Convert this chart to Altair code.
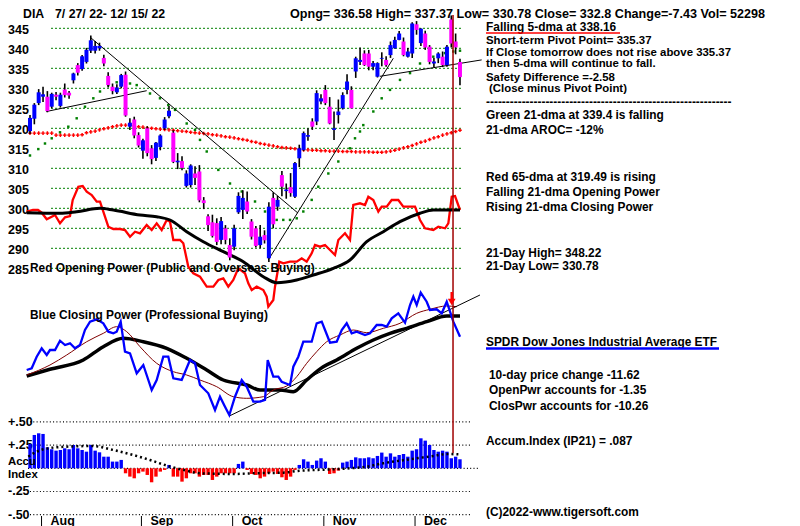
import altair as alt
import pandas as pd

FONT = "Liberation Sans"

dates = ["2022-07-27","2022-07-28","2022-07-29",
 "2022-08-01","2022-08-02","2022-08-03","2022-08-04","2022-08-05",
 "2022-08-08","2022-08-09","2022-08-10","2022-08-11","2022-08-12",
 "2022-08-15","2022-08-16","2022-08-17","2022-08-18","2022-08-19",
 "2022-08-22","2022-08-23","2022-08-24","2022-08-25","2022-08-26",
 "2022-08-29","2022-08-30","2022-08-31",
 "2022-09-01","2022-09-02","2022-09-06","2022-09-07","2022-09-08","2022-09-09",
 "2022-09-12","2022-09-13","2022-09-14","2022-09-15","2022-09-16",
 "2022-09-19","2022-09-20","2022-09-21","2022-09-22","2022-09-23",
 "2022-09-26","2022-09-27","2022-09-28","2022-09-29","2022-09-30",
 "2022-10-03","2022-10-04","2022-10-05","2022-10-06","2022-10-07",
 "2022-10-10","2022-10-11","2022-10-12","2022-10-13","2022-10-14",
 "2022-10-17","2022-10-18","2022-10-19","2022-10-20","2022-10-21",
 "2022-10-24","2022-10-25","2022-10-26","2022-10-27","2022-10-28","2022-10-31",
 "2022-11-01","2022-11-02","2022-11-03","2022-11-04",
 "2022-11-07","2022-11-08","2022-11-09","2022-11-10","2022-11-11",
 "2022-11-14","2022-11-15","2022-11-16","2022-11-17","2022-11-18",
 "2022-11-21","2022-11-22","2022-11-23","2022-11-25",
 "2022-11-28","2022-11-29","2022-11-30",
 "2022-12-01","2022-12-02","2022-12-05","2022-12-06","2022-12-07","2022-12-08","2022-12-09",
 "2022-12-12","2022-12-13","2022-12-14","2022-12-15"]

opens = [319.3,322.4,326.3,327.9,327.9,325.4,328.4,325.6,329.7,328.9,
 332.0,335.8,334.8,336.6,339.4,339.4,340.0,337.6,333.1,330.4,
 329.0,330.4,333.4,320.4,322.2,318.3,314.4,320.0,315.0,312.6,
 315.3,320.0,323.0,318.9,311.5,311.8,305.6,305.8,308.7,309.2,
 302.0,298.0,296.5,296.3,292.1,295.0,290.8,290.4,299.0,299.6,
 301.7,296.7,295.0,290.8,293.3,287.5,302.6,300.4,308.3,304.3,
 305.3,302.9,312.5,314.6,317.9,321.7,321.7,326.7,329.6,325.4,
 319.6,323.3,325.0,329.6,329.6,334.2,336.6,338.7,338.7,335.4,
 332.9,337.4,337.1,338.3,340.0,342.1,341.7,337.9,338.7,346.0,
 341.3,343.7,340.4,336.2,337.5,337.9,335.8,347.2,341.7,336.58]
highs = [323.3,326.3,329.8,330.4,329.3,328.9,329.1,328.9,331.2,329.3,
 333.9,336.3,338.3,340.1,343.2,341.8,341.4,338.4,334.0,331.2,
 331.0,333.6,334.2,322.5,322.9,319.0,317.4,320.5,315.8,316.6,
 318.5,322.8,325.6,319.5,313.8,313.0,309.5,311.0,310.5,310.8,
 302.8,298.5,298.4,297.5,297.8,295.8,292.5,295.9,304.0,304.5,
 304.2,297.3,295.6,295.8,294.5,301.5,304.0,303.1,309.3,306.2,
 308.8,311.6,315.9,319.2,320.0,322.5,329.5,328.5,330.8,327.8,
 324.2,327.2,329.0,333.5,330.5,337.9,340.2,339.5,339.6,336.8,
 336.5,339.0,338.0,341.7,342.9,344.3,342.7,340.1,346.5,346.8,
 345.0,344.4,340.8,337.6,339.0,339.2,340.8,348.22,343.7,337.37]
lows = [318.6,321.0,325.8,326.6,324.0,325.0,327.0,325.2,327.7,327.4,
 331.2,333.2,334.4,336.2,338.8,338.7,339.4,335.5,330.2,328.5,
 328.6,330.0,322.9,319.6,317.5,315.2,312.4,313.0,311.0,311.8,
 314.5,319.6,322.5,311.3,309.8,309.5,305.2,305.2,305.8,301.5,
 299.8,294.3,292.7,290.8,291.0,291.0,287.0,289.5,298.6,297.3,
 298.6,292.2,290.2,290.0,291.2,286.6,295.0,299.4,303.0,302.4,
 302.9,302.6,310.3,314.3,316.9,319.6,320.8,326.0,325.8,321.0,
 317.1,321.2,324.7,328.5,325.0,332.6,335.8,335.6,334.5,334.5,
 332.7,335.5,335.4,337.6,339.9,342.0,338.0,337.7,337.6,343.4,
 340.6,339.6,336.0,335.3,336.3,335.3,335.4,340.2,338.5,330.78]
closes = [322.6,325.9,329.0,328.5,324.3,328.6,327.9,328.4,328.3,328.2,
 333.7,333.9,338.0,339.6,342.0,340.6,340.6,336.2,330.8,329.3,
 330.2,333.3,323.2,321.4,318.2,315.7,317.0,313.8,312.3,316.4,
 318.2,322.2,324.4,311.6,311.9,310.1,308.7,310.7,307.6,302.0,
 301.3,295.8,293.1,291.6,296.8,292.1,287.7,295.0,303.1,302.6,
 299.2,292.9,290.6,292.9,292.0,300.4,296.0,302.1,305.4,304.7,
 303.8,311.3,315.0,318.8,318.3,320.4,328.8,327.5,326.3,321.2,
 320.0,324.2,328.3,331.7,325.0,337.5,337.1,335.8,335.4,336.3,
 336.3,337.6,335.8,340.8,342.1,343.7,338.3,339.2,346.2,344.6,
 344.9,340.2,336.6,336.7,338.7,335.8,340.4,341.2,340.23,332.8]

ma65 = [318.8,318.8,318.8,318.8,318.8,318.8,318.3,318.3,318.3,318.3,
 318.3,318.3,318.4,318.9,319.1,319.3,319.6,319.9,320.1,320.4,
 320.6,320.8,320.8,320.8,320.6,320.4,320.3,320.1,320.0,319.9,
 319.8,319.7,319.6,319.5,319.4,319.3,319.2,319.0,318.9,318.8,
 318.7,318.6,318.4,318.3,318.1,317.9,317.8,317.6,317.4,317.2,
 317.0,316.7,316.5,316.2,316.0,315.8,315.6,315.4,315.2,315.1,
 315.0,314.9,314.7,314.6,314.6,314.5,314.5,314.4,314.4,314.3,
 314.3,314.3,314.2,314.2,314.2,314.1,314.1,314.1,314.1,314.0,
 314.0,314.0,314.1,314.3,314.5,314.8,315.1,315.4,315.7,316.1,
 316.5,316.8,317.2,317.6,317.9,318.3,318.6,318.9,319.2,319.5]

ma21_day = [0,1.91,3.45,5.0,6.91,8.82,10.75,12.66,14.58,16.12,18.03,19.96,21.87,23.03,24.57,
 27.63,29.93,31.84,33.39,36.08,37.99,39.14,40.69,43.36,46.05,48.75,51.81,54.11,56.8,58.32,
 59.87,61.41,62.93,64.86,66.38,68.69,70.99,73.68,74.83,75.98,76.74,79.05,80.98,82.89,85.19,
 87.5,89.8,92.86,95.56,97.47,99.01]
ma21_val = [313.2,314.8,316.2,317.5,319,320.4,322.5,325.4,327.5,329.2,330.8,331.5,331.7,331.2,330.8,
 328.7,327.5,325.8,324.6,321.2,319.6,317.1,314.2,309.6,306.2,304.2,301.7,299.2,297.1,297.1,
 297.1,297.5,299.2,302.1,305.4,308.7,311.7,315,317.5,319.2,320.8,324.2,327.5,329.6,332.1,
 333.8,336.2,337.9,338.8,339.2,339.4]

trend_id = [1,1,2,2,3,3,4,4]
trend_day = [13.82,61.7,3.77,26.87,54.87,83.65,80.59,104.0]
trend_price = [342.8,298.8,324.2,329.4,287.1,337.5,333.0,337.1]

grid_levels = [285,290,295,300,305,310,315,320,325,330,335,340,345]

# Opening power (red) and its average, arbitrary units
op_day = [-0.76,0.69,1.84,2.69,3.85,5.0,5.76,6.91,8.06,9.21,9.83,11.12,12.13,13.06,14.21,15.36,16.12,16.88,
 18.03,19.18,20.72,21.87,23.03,24.18,25.33,26.87,28.02,29.17,30.32,31.48,32.24,33.0,34.54,35.3,36.45,37.6,
 39.14,40.69,42.21,43.36,44.51,45.66,46.81,47.96,49.5,50.27,51.05,52.2,53.72,54.5,54.87,56.02,56.41,57.4,
 58.32,59.87,61.41,62.56,63.71,64.86,65.62,66.77,67.93,69.08,70.23,70.99,72.53,73.68,74.44,75.98,77.13,77.9,
 79.05,80.2,80.98,82.13,83.28,84.8,85.95,88.65,89.8,90.95,92.86,94.01,95.56,96.32,97.1,97.86,99.01]
op_val = [208.3,210,210,207.3,200.7,203.3,205,196.7,202.7,204,220,233.3,234,228.3,225,218.3,218.3,208.3,
 193.3,191,191,190,183.3,188.3,186.7,195,190,196.7,190,200,198.3,180,180,176.7,153.3,146.7,
 143.3,133.3,133.3,140,141.7,133.3,140,151.7,146.7,136.7,130,133.3,130,123.3,113.3,120,133.3,158.3,
 156.7,158.3,158.3,161.7,158.3,166.7,175,173.3,175,170,165,180,186.7,180,215,216.7,215,223.3,
 220,208.3,213.3,213.3,220,220,213.3,213.3,200,191.7,190,193.3,191.7,196.7,223.3,224,210]
opma_day = [-0.76,6.91,10.75,16.12,19.18,25.33,29.17,32.24,36.08,39.9,44.51,49.11,53.72,56.8,61.41,65.23,
 69.84,73.68,77.53,81.35,85.19,89.8,92.86,99.01]
opma_val = [207.3,206.7,208.3,211.7,210,205,203.3,200,188.3,178.3,168.3,158.3,143.3,137.3,140,145,
 151.7,160,178.3,188.3,198.3,206.7,210,210]

# Closing power (blue) and its averages
cp_day = [-0.76,0.39,1.54,2.69,3.85,4.6,5.76,6.91,8.06,9.21,10.36,11.51,12.66,13.82,15.36,16.88,18.03,19.18,
 19.96,20.88,21.87,23.03,24.57,26.09,28.02,29.17,30.69,31.84,33.0,34.93,36.84,37.99,39.14,41.05,42.6,43.75,
 44.9,45.89,47.2,48.75,49.9,51.42,52.96,54.11,54.73,56.02,57.17,57.95,59.87,60.63,61.78,62.93,64.86,66.01,
 67.17,67.93,69.08,70.62,71.77,72.92,74.07,75.22,77.13,78.29,79.83,80.98,82.13,83.28,84.8,86.35,87.5,88.26,
 89.04,89.96,91.34,92.1,93.64,94.8,95.95,96.71,97.47,99.01]
cp_val = [50,51.7,63.3,71.7,65,70,70,79.3,75,76.7,71.7,75,90,98.3,100.7,96.7,88.3,86.7,
 88.3,98.3,68.3,66.7,46.7,55,30,40,63.3,63.3,41.7,40,60,56.7,35,26.7,10,23.3,
 13.3,5,23.3,40,33.3,18.3,18.3,20,60,43.3,43.3,38.3,35,53.3,63.3,78.3,78.3,96.7,
 98.3,90,77.3,78.3,90,96.7,86.7,88.3,85,86.7,95,95,93.3,101.7,106.7,97.3,115,123.3,
 115,127.3,118.3,110,110.7,106.7,118.3,108.3,98.3,83.3]
cpb_day = [-0.76,4.6,8.45,13.06,16.88,19.96,22.27,25.33,29.17,33.0,36.08,39.14,42.99,46.81,49.9,53.72,
 56.02,59.11,61.41,63.71,66.01,68.32,71.38,74.44,77.53,81.35,85.19,89.04,92.1,95.95,98.25]
cpb_val = [45,55,65,78.3,86.7,93.3,88.3,73.3,56.7,48.3,45,40,33.3,23.3,21.7,23.3,
 30,34,43.3,56.7,68.3,78.3,85,90,87.3,91.7,96.7,106.7,110.7,114,113.3]
cpk_day = [-0.76,4.6,12.27,16.88,21.48,26.09,31.48,36.08,40.69,44.51,49.9,52.96,57.56,60.63,63.71,67.53,
 70.62,75.22,79.05,82.89,86.74,91.34,95.95,99.01]
cpk_val = [44,50.7,60,73.3,81.7,78.3,71.7,61.7,50,40,35,30,30,28.3,40,53.3,
 60,71.7,80,86.7,91.7,98.3,104,104]
cpt_day = [45.89,103.6]
cpt_val = [4,125]

accum = [0.262,0.359,0.377,0.37,0.226,0.205,0.19,0.197,0.215,0.205,
 0.251,0.215,0.197,0.179,0.251,0.19,0.172,0.125,0.125,0.072,
 0.072,0.09,-0.054,-0.09,-0.108,-0.054,-0.036,-0.072,-0.151,-0.09,
 -0.036,-0.018,0.036,-0.09,-0.09,-0.144,-0.108,-0.054,-0.054,-0.09,
 -0.072,-0.072,-0.126,-0.09,-0.054,-0.054,-0.054,-0.054,0.047,0.072,
 -0.018,-0.061,-0.072,-0.108,-0.09,-0.054,-0.036,-0.061,-0.097,-0.126,
 -0.09,-0.018,0.036,0.097,0.072,0.036,0.083,0.108,0.072,-0.061,
 -0.054,-0.025,0.061,0.072,0.09,0.118,0.108,0.108,0.118,0.108,
 0.133,0.169,0.125,0.161,0.125,0.143,0.154,0.125,0.19,0.205,
 0.323,0.298,0.251,0.197,0.179,0.19,0.179,0.108,0.125,0.097]
am_day = [-0.39,1.54,3.07,8.45,14.58,18.42,23.79,27.63,32.24,36.08,39.14,46.81,51.42,58.32,62.17,66.01,
 69.84,73.68,77.53,81.35,85.19,89.04,92.86,95.95,98.63]
am_val = [0.125,0.179,0.205,0.233,0.24,0.205,0.143,0.089,0.018,-0.026,-0.054,-0.061,-0.054,-0.047,-0.026,-0.018,
 -0.011,0.0,0.018,0.054,0.082,0.107,0.133,0.154,0.15]
accum_levels = [0.5, 0.25, -0.25, -0.5]
accum_labels = ["+.50", "+.25", "-.25", "-.50"]

months = ["Aug", "Sep", "Oct", "Nov", "Dec"]
month_first_day = [3, 26, 47, 68, 89]
signal_day = [97.4]

# ---------- scales ----------
xs = alt.Scale(domain=[-5.066, 175.45], nice=False, zero=False)
ps = alt.Scale(domain=[220.575, 350.075], nice=False, zero=False)
pw = alt.Scale(domain=[-106, 412], nice=False, zero=False)
acs = alt.Scale(domain=[-0.622, 4.960], nice=False, zero=False)

def X(f="day"):
    return alt.X(f"{f}:Q", scale=xs, axis=None)

def Y(f, sc):
    return alt.Y(f"{f}:Q", scale=sc, axis=None)

def Y2(f):
    return alt.Y2(f"{f}:Q")

def txt(s, x, y, color="black", size=11.9):
    return alt.Chart(pd.DataFrame({"t": [s]})).mark_text(
        align="left", baseline="middle", font=FONT, fontSize=size,
        fontWeight="bold", color=color).encode(
        x=alt.value(x), y=alt.value(y), text="t:N")

def hline(x1, x2, y, color, w):
    return alt.Chart(pd.DataFrame({"k": [0]})).mark_rule(color=color, strokeWidth=w).encode(
        x=alt.value(x1), x2=alt.value(x2), y=alt.value(y))

days = list(range(len(dates)))
cdf = pd.DataFrame({"day": days, "date": dates, "o": opens, "h": highs, "l": lows, "c": closes})
cdf["dir"] = ["up" if c >= o else "down" for o, c in zip(opens, closes)]

layers = []

# price grid
layers.append(alt.Chart(pd.DataFrame({"p": grid_levels})).mark_rule(
    color="#008000", strokeDash=[2, 2], strokeWidth=1).encode(
    y=Y("p", ps), x=alt.value(43), x2=alt.value(454)))
layers.append(alt.Chart(pd.DataFrame({"p": grid_levels, "lab": [str(v) for v in grid_levels]})).mark_text(
    align="left", baseline="middle", dy=1.5, font=FONT, fontSize=12.5, fontWeight="bold", color="black").encode(
    y=Y("p", ps), x=alt.value(0), text="lab:N"))

# lower dotted guides
layers.append(alt.Chart(pd.DataFrame({"a": accum_levels})).mark_rule(
    color="black", strokeDash=[1, 2.3], strokeWidth=1.2).encode(
    y=Y("a", acs), x=alt.value(22), x2=alt.value(464)))
layers.append(alt.Chart(pd.DataFrame({"a": [0.0]})).mark_rule(
    color="black", strokeDash=[1, 2.3], strokeWidth=1.2).encode(
    y=Y("a", acs), x=alt.value(20), x2=alt.value(472)))
layers.append(alt.Chart(pd.DataFrame({"a": accum_levels, "lab": accum_labels})).mark_text(
    align="left", baseline="middle", font=FONT, fontSize=12.5, fontWeight="bold", color="black").encode(
    y=Y("a", acs), x=alt.value(0), text="lab:N"))

# 65-dma red plus markers
layers.append(alt.Chart(pd.DataFrame({"day": days, "v": ma65})).mark_point(
    shape="cross", filled=True, size=13, color="#ff0000", opacity=1).encode(x=X(), y=Y("v", ps)))
# 21-dma green dots
layers.append(alt.Chart(pd.DataFrame({"day": ma21_day, "v": ma21_val})).mark_square(
    size=6, color="#008000", opacity=1).encode(x=X(), y=Y("v", ps)))
# trendlines
layers.append(alt.Chart(pd.DataFrame({"id": trend_id, "day": trend_day, "v": trend_price})).mark_line(
    color="black", strokeWidth=1).encode(x=X(), y=Y("v", ps), detail="id:N"))

# Opening power
layers.append(alt.Chart(pd.DataFrame({"day": op_day, "v": op_val})).mark_line(
    color="#ff0000", strokeWidth=2.3).encode(x=X(), y=Y("v", pw)))
layers.append(alt.Chart(pd.DataFrame({"day": opma_day, "v": opma_val})).mark_line(
    color="black", strokeWidth=3, interpolate="monotone").encode(x=X(), y=Y("v", pw)))

# candles
layers.append(alt.Chart(cdf).mark_rule(color="black", strokeWidth=1.6).encode(
    x=X(), y=Y("l", ps), y2=Y2("h")))
layers.append(alt.Chart(cdf).mark_rule(strokeWidth=4, strokeCap="butt").encode(
    x=X(), y=Y("o", ps), y2=Y2("c"),
    color=alt.Color("dir:N", scale=alt.Scale(domain=["up", "down"], range=["#0000ff", "#ff00ff"]), legend=None)))

# Closing power
layers.append(alt.Chart(pd.DataFrame({"day": cpk_day, "v": cpk_val})).mark_line(
    color="black", strokeWidth=3.5, interpolate="monotone").encode(x=X(), y=Y("v", pw)))
layers.append(alt.Chart(pd.DataFrame({"day": cpb_day, "v": cpb_val})).mark_line(
    color="#800000", strokeWidth=1, interpolate="monotone").encode(x=X(), y=Y("v", pw)))
layers.append(alt.Chart(pd.DataFrame({"day": cpt_day, "v": cpt_val})).mark_line(
    color="black", strokeWidth=1).encode(x=X(), y=Y("v", pw)))
layers.append(alt.Chart(pd.DataFrame({"day": cp_day, "v": cp_val})).mark_line(
    color="#0000ff", strokeWidth=2.3).encode(x=X(), y=Y("v", pw)))

# Accumulation index
adf = pd.DataFrame({"day": days, "a": accum})
adf["sign"] = ["pos" if a >= 0 else "neg" for a in accum]
layers.append(alt.Chart(adf).mark_rule(strokeWidth=3.4, strokeCap="butt").encode(
    x=X(), y=Y("a", acs), y2=alt.datum(0),
    color=alt.Color("sign:N", scale=alt.Scale(domain=["pos", "neg"], range=["#0000ff", "#ff0000"]), legend=None)))
layers.append(alt.Chart(pd.DataFrame({"day": am_day, "a": am_val})).mark_line(
    color="black", strokeWidth=2.5, strokeDash=[2, 3], interpolate="monotone").encode(x=X(), y=Y("a", acs)))

# signal line and arrow
layers.append(alt.Chart(pd.DataFrame({"day": signal_day})).mark_rule(
    color="#a00000", strokeWidth=1.5).encode(x=X(), y=alt.value(7), y2=alt.value(445)))
layers.append(alt.Chart(pd.DataFrame({"day": [97.1], "v": [128], "v2": [119]})).mark_rule(
    color="#ff0000", strokeWidth=2.5).encode(x=X(), y=Y("v", pw), y2=Y2("v2")))
layers.append(alt.Chart(pd.DataFrame({"day": [97.1], "v": [118]})).mark_point(
    shape="triangle-down", filled=True, size=60, color="#ff0000", opacity=1).encode(x=X(), y=Y("v", pw)))

# months
mdf = pd.DataFrame({"day": month_first_day, "m": months})
layers.append(alt.Chart(mdf).mark_rule(color="black", strokeWidth=1, xOffset=-1.5).encode(
    x=X(), y=alt.value(508), y2=alt.value(518)))
layers.append(alt.Chart(mdf).mark_text(align="left", baseline="middle", dx=7.5, font=FONT,
    fontSize=12.5, fontWeight="bold", color="black").encode(x=X(), y=alt.value(512.5), text="m:N"))

# texts
TS = 11.4
layers += [
    txt("DIA", 15, 5.5, size=12.3),
    txt("7/ 27/ 22- 12/ 15/ 22", 47, 5.5, size=12.3),
    txt("Opng= 336.58 High= 337.37 Low= 330.78 Close= 332.8 Change=-7.43 Vol= 52298", 282, 5.5, size=12.6),
    txt("Falling 5-dma at 338.16", 478, 18.5),
    hline(478, 612, 25, "#ff0000", 1.5),
    txt("Short-term Pivot Point= 335.37", 478, 33, size=TS),
    txt("If Close tomorrow does not rise above 335.37", 478, 44.7, size=TS),
    txt("then 5-dma will continue to fall.", 478, 56.4, size=TS),
    txt("Safety Difference =-2.58", 478, 69.5, size=TS),
    txt("(Close minus Pivot Point)", 481, 81, size=TS),
    txt("-" * 62, 478, 93.5),
    txt("Green 21-dma at  339.4 is falling", 478, 107),
    txt("21-dma AROC= -12%", 478, 122),
    txt("Red 65-dma at  319.49 is rising", 478, 169),
    txt("Falling 21-dma Opening Power", 478, 184),
    txt("Rising 21-dma Closing Power", 478, 199),
    txt("21-Day High= 348.22", 478, 245),
    txt("21-Day Low= 330.78", 478, 258),
    txt("SPDR Dow Jones Industrial Average ETF", 478, 334),
    hline(478, 711, 340.5, "#0000ff", 2.5),
    txt("10-day price change -11.62", 481, 367),
    txt("OpenPwr accounts for -1.35", 481, 382),
    txt("ClosPwr accounts for -10.26", 481, 397.5),
    txt("Accum.Index (IP21) =  .087", 478, 433),
    txt("(C)2022-www.tigersoft.com", 478, 504),
    txt("Red Opening Power (Public and Overseas Buying)", 22, 260.3),
    txt("Blue Closing Power (Professional Buying)", 22, 307),
    txt("Accu", 0, 453.5, size=11.4),
    txt("Index", 0, 467, size=11.4),
]

chart = alt.layer(*layers).resolve_scale(y="independent", color="independent").properties(
    width=784, height=518,
    autosize=alt.AutoSizeParams(type="none"),
    padding=0,
    background="white",
).configure_view(stroke=None)

chart.save("out.html", embed_options={"renderer": "svg", "actions": False})
